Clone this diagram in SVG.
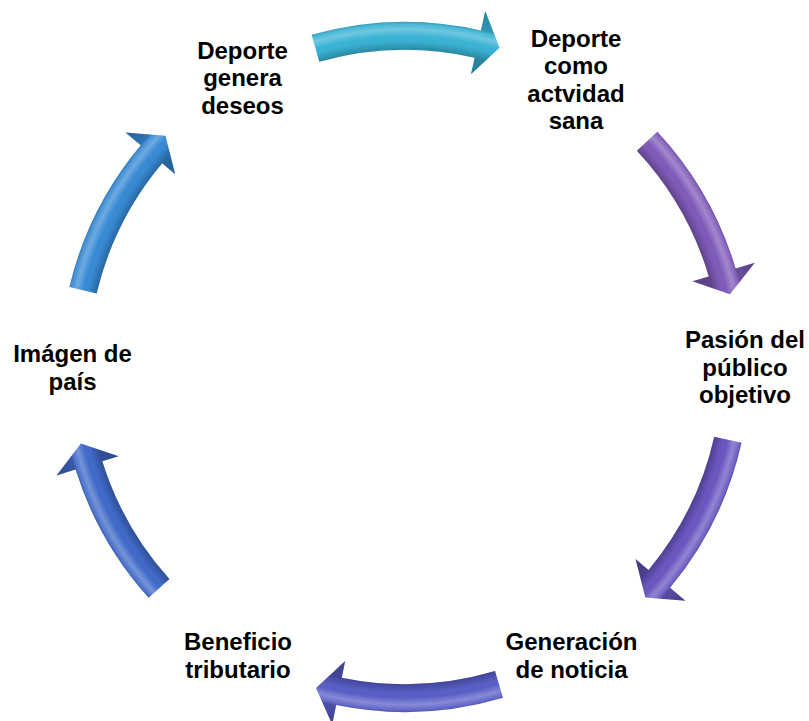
<svg xmlns="http://www.w3.org/2000/svg" xmlns:xlink="http://www.w3.org/1999/xlink" width="809" height="721" viewBox="0 0 809 721">
<style>
  .lbl { font-family: "Liberation Sans", Arial, sans-serif; font-size: 24px; font-weight: bold; fill: #000; text-anchor: middle; }
  .shade { fill: url(#shade); }
</style>
<defs>
  <radialGradient id="shade" gradientUnits="userSpaceOnUse" cx="405" cy="367" r="365">
    <stop offset="0.82" stop-color="#000" stop-opacity="0.3"/>
    <stop offset="0.868" stop-color="#000" stop-opacity="0.25"/>
    <stop offset="0.885" stop-color="#000" stop-opacity="0.08"/>
    <stop offset="0.905" stop-color="#fff" stop-opacity="0"/>
    <stop offset="0.925" stop-color="#fff" stop-opacity="0.28"/>
    <stop offset="0.938" stop-color="#fff" stop-opacity="0.1"/>
    <stop offset="0.946" stop-color="#000" stop-opacity="0.15"/>
    <stop offset="1" stop-color="#000" stop-opacity="0.28"/>
  </radialGradient>
  <path id="a1" d="M 311.64 34.87 A 345 345 0 0 1 480.83 30.45 L 485.23 10.94 L 499.57 47.72 L 470.94 74.35 L 474.68 57.77 A 317 317 0 0 0 319.22 61.82 Z"/>
  <path id="a2" d="M 657.33 131.71 A 345 345 0 0 1 735.61 268.43 L 754.78 262.72 L 729.97 294.37 L 692.49 281.29 L 708.78 276.43 A 317 317 0 0 0 636.85 150.81 Z"/>
  <path id="a3" d="M 741.55 442.83 A 345 345 0 0 1 670.06 587.83 L 685.43 600.64 L 645.36 597.47 L 635.49 559.03 L 648.55 569.91 A 317 317 0 0 0 714.23 436.68 Z"/>
  <path id="a4" d="M 502.98 697.79 A 345 345 0 0 1 336.21 705.07 L 332.22 724.66 L 316.02 687.88 L 345.18 660.97 L 341.79 677.63 A 317 317 0 0 0 495.03 670.94 Z"/>
  <path id="a5" d="M 148.63 597.84 A 345 345 0 0 1 75.59 469.60 L 56.50 475.55 L 80.92 443.59 L 118.56 456.22 L 102.33 461.28 A 317 317 0 0 0 169.44 579.10 Z"/>
  <path id="a6" d="M 69.38 287.06 A 345 345 0 0 1 140.73 145.23 L 125.41 132.38 L 165.47 135.66 L 175.20 174.16 L 162.18 163.23 A 317 317 0 0 0 96.62 293.55 Z"/>
</defs>
<rect width="809" height="721" fill="#fff"/>
<g id="connectors">
  <g id="arrow1"><use xlink:href="#a1" fill="#38B2D4"/><use xlink:href="#a1" class="shade"/></g>
  <g id="arrow2"><use xlink:href="#a2" fill="#7E5AB9"/><use xlink:href="#a2" class="shade"/></g>
  <g id="arrow3"><use xlink:href="#a3" fill="#6955BF"/><use xlink:href="#a3" class="shade"/></g>
  <g id="arrow4"><use xlink:href="#a4" fill="#585DC6"/><use xlink:href="#a4" class="shade"/></g>
  <g id="arrow5"><use xlink:href="#a5" fill="#3F69C8"/><use xlink:href="#a5" class="shade"/></g>
  <g id="arrow6"><use xlink:href="#a6" fill="#3689D4"/><use xlink:href="#a6" class="shade"/></g>
</g>
<g id="node-deporte-genera">
  <text class="lbl" x="242.5" y="58.5">Deporte</text>
  <text class="lbl" x="242.5" y="86">genera</text>
  <text class="lbl" x="242.5" y="113.5">deseos</text>
</g>
<g id="node-deporte-sana">
  <text class="lbl" x="576" y="46.5">Deporte</text>
  <text class="lbl" x="576" y="74">como</text>
  <text class="lbl" x="576" y="101.5">actvidad</text>
  <text class="lbl" x="576" y="129">sana</text>
</g>
<g id="node-pasion">
  <text class="lbl" x="745" y="348">Pasión del</text>
  <text class="lbl" x="745" y="375.5">público</text>
  <text class="lbl" x="745" y="403">objetivo</text>
</g>
<g id="node-generacion">
  <text class="lbl" x="571.5" y="650">Generación</text>
  <text class="lbl" x="571.5" y="677.5">de noticia</text>
</g>
<g id="node-beneficio">
  <text class="lbl" x="238" y="650">Beneficio</text>
  <text class="lbl" x="238" y="677.5">tributario</text>
</g>
<g id="node-imagen">
  <text class="lbl" x="72.5" y="362">Imágen de</text>
  <text class="lbl" x="72.5" y="389.5">país</text>
</g>
</svg>
